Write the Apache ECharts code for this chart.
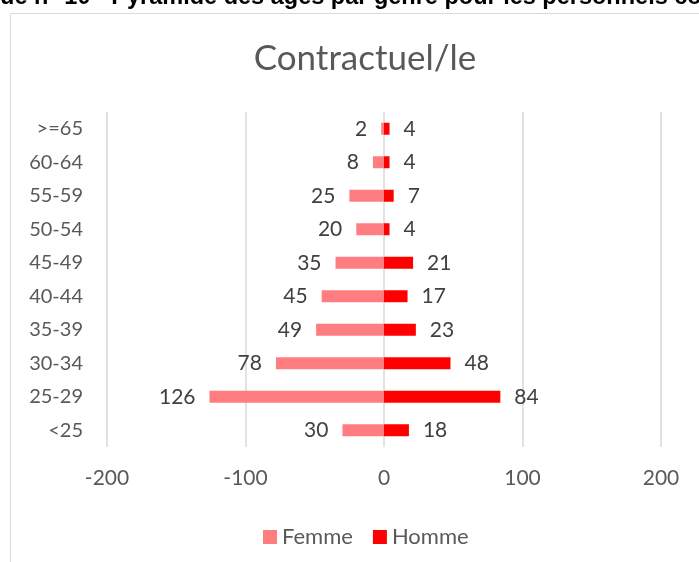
<!DOCTYPE html>
<html>
<head>
<meta charset="utf-8">
<script src="https://cdn.jsdelivr.net/npm/echarts@6/dist/echarts.min.js"></script>
<style>
  html, body { margin: 0; padding: 0; background: #fff; }
  #chart { width: 699px; height: 562px; }
</style>
</head>
<body>
<div id="chart"></div>
<script>
let ages = ['<25', '25-29', '30-34', '35-39', '40-44', '45-49', '50-54', '55-59', '60-64', '>=65'];
let femme = [30, 126, 78, 49, 45, 35, 20, 25, 8, 2];
let homme = [18, 84, 48, 23, 17, 21, 4, 7, 4, 4];
let xTicks = [-200, -100, 0, 100, 200];

let chart = echarts.init(document.getElementById('chart'));

let fontName = 'Lato, "Open Sans", sans-serif';

let labelFont = {
    fontFamily: fontName,
    fontSize: 21,
    color: '#404040'
};

let option = {
    animation: false,
    title: {
        text: 'Contractuel/le',
        left: 360,
        top: 36,
        textAlign: 'center',
        textStyle: {
            fontFamily: fontName,
            fontSize: 35,
            fontWeight: 'normal',
            color: '#595959'
        }
    },
    graphic: [
        {
            type: 'rect',
            shape: {x: 10.5, y: 13.5, width: 720, height: 580},
            style: {fill: 'none', stroke: '#d9d9d9', lineWidth: 1},
            silent: true
        },
        {
            // page heading above the chart, cut by the crop
            type: 'text',
            left: -90,
            top: -14,
            style: {
                text: 'Graphique n° 10 - Pyramide des âges par genre pour les personnels contractuels',
                font: 'bold 23.5px "Liberation Sans", sans-serif',
                fill: '#000'
            },
            silent: true
        }
    ],
    legend: {
        data: ['Femme', 'Homme'],
        left: 258,
        top: 521,
        itemWidth: 14,
        itemHeight: 14,
        itemGap: 20,
        icon: 'rect',
        textStyle: {
            fontFamily: fontName,
            fontSize: 22,
            color: '#595959'
        }
    },
    grid: {
        left: 107,
        right: 38,
        top: 112,
        bottom: 115
    },
    xAxis: {
        type: 'value',
        min: xTicks[0],
        max: xTicks[xTicks.length - 1],
        interval: 100,
        axisLine: {show: false},
        axisTick: {show: false},
        splitLine: {lineStyle: {color: '#d9d9d9', width: 1.5}},
        axisLabel: {
            margin: 21,
            fontFamily: fontName,
            fontSize: 21,
            color: '#595959'
        }
    },
    yAxis: {
        type: 'category',
        data: ages,
        axisLine: {show: false},
        axisTick: {show: false},
        axisLabel: {
            margin: 24,
            fontFamily: fontName,
            fontSize: 20,
            color: '#595959'
        }
    },
    series: [
        {
            name: 'Femme',
            type: 'bar',
            stack: 'pyr',
            barWidth: 12,
            data: femme.map(v => -v),
            itemStyle: {color: '#FF7C80'},
            label: Object.assign({
                show: true,
                position: 'left',
                distance: 14,
                formatter: p => Math.abs(p.value)
            }, labelFont)
        },
        {
            name: 'Homme',
            type: 'bar',
            stack: 'pyr',
            barWidth: 12,
            data: homme,
            itemStyle: {color: '#FF0000'},
            label: Object.assign({
                show: true,
                position: 'right',
                distance: 14
            }, labelFont)
        }
    ]
};

chart.setOption(option);
</script>
</body>
</html>
